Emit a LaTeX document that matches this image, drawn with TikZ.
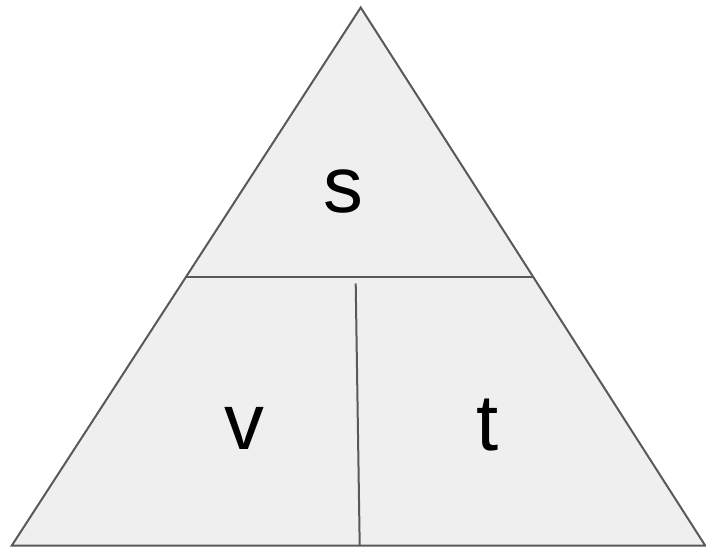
\documentclass[tikz,border=0pt]{standalone}
\usepackage{fontspec}
\setmainfont{Liberation Sans}
\definecolor{edge}{HTML}{595959}
\definecolor{face}{HTML}{EFEFEF}
\begin{document}
\begin{tikzpicture}[x=1bp,y=-1bp,
  outline/.style={draw=edge,line width=2bp,line join=miter},
  divider/.style={draw=edge,line width=2bp},
  letter/.style={font=\fontsize{80}{80}\selectfont,inner sep=0pt,anchor=base}]
\useasboundingbox (0,0) rectangle (706,547);
\coordinate (apex) at (360.7,7.5);
\coordinate (bl) at (11.7,545.7);
\coordinate (br) at (705.3,545.7);
\coordinate (hl) at (186,276.7);
\coordinate (hr) at (534,276.7);
\coordinate (vt) at (355.7,283.5);
\coordinate (vb) at (359.7,545.7);
\filldraw[outline,fill=face] (apex) -- (br) -- (bl) -- cycle;
\draw[divider] (hl) -- (hr);
\draw[divider] (vt) -- (vb);
\node[letter] (s) at (343,212.5) {s};
\node[letter] (v) at (244,449.3) {v};
\node[letter] (t) at (487.5,450) {t};
\end{tikzpicture}
\end{document}
